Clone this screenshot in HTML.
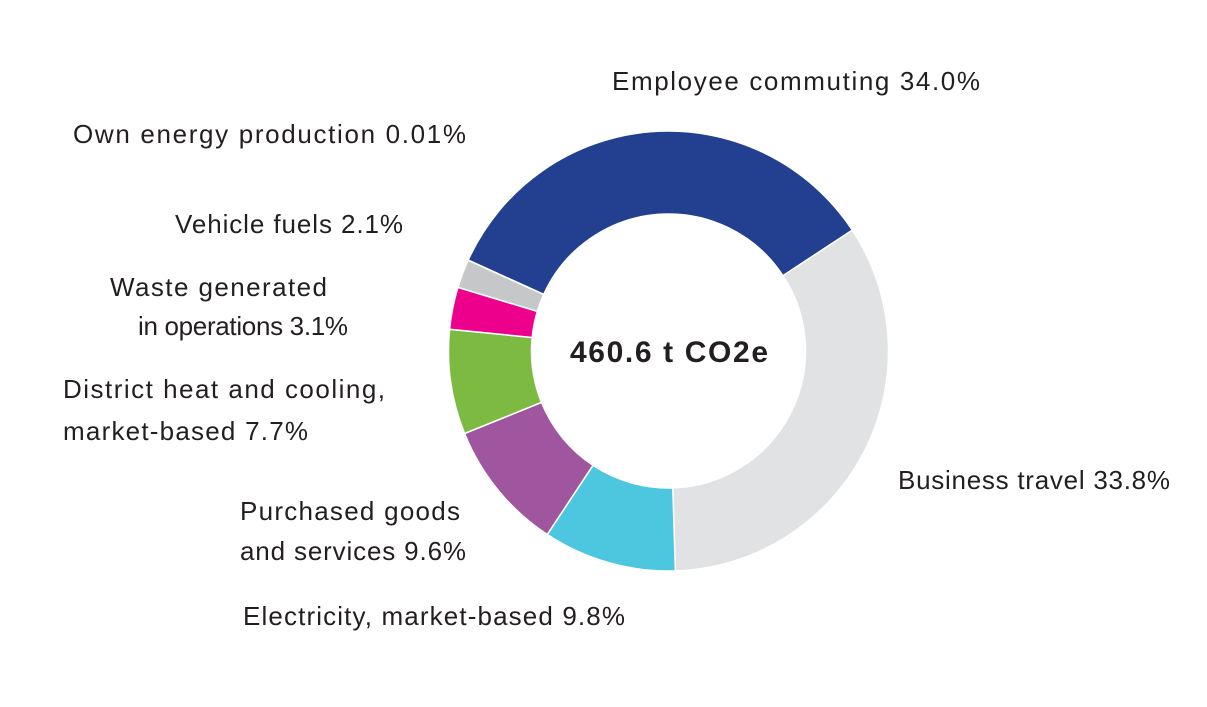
<!DOCTYPE html>
<html><head><meta charset="utf-8"><style>
html,body{margin:0;padding:0;background:#fff;}
svg{display:block;font-family:"Liberation Sans",sans-serif;}
</style></head><body>
<svg width="1207" height="707" viewBox="0 0 1207 707">
<g id="slices"></g>
<text x="669" y="362" text-anchor="middle" font-size="30" font-weight="bold" fill="#231f20" textLength="198">460.6 t CO2e</text>
<g font-size="26" fill="#231f20">
<text x="612" y="90" textLength="368">Employee commuting 34.0%</text>
<text x="73" y="143" textLength="393">Own energy production 0.01%</text>
<text x="175" y="233" textLength="228">Vehicle fuels 2.1%</text>
<text x="110" y="296" textLength="217">Waste generated</text>
<text x="138" y="335" textLength="210">in operations 3.1%</text>
<text x="63" y="398" textLength="322">District heat and cooling,</text>
<text x="63" y="440" textLength="245">market-based 7.7%</text>
<text x="898" y="489" textLength="272">Business travel 33.8%</text>
<text x="240" y="520" textLength="220">Purchased goods</text>
<text x="240" y="560" textLength="226">and services 9.6%</text>
<text x="243" y="625" textLength="382">Electricity, market-based 9.8%</text>
</g>
</svg>
<script>
const categories=["Employee commuting","Business travel","Electricity, market-based","Purchased goods and services","District heat and cooling","Waste generated in operations","Vehicle fuels","Own energy production"];
const values=[34.0,33.8,9.8,9.6,7.7,3.1,2.1,0.01];
const colors=["#22408f","#e1e2e4","#4dc6e0","#a0559f","#7dba42","#ec008c","#c6c7c9","#9ea0a3"];
const cx=668.5,cy=351,R=220,r=137,start=-65.6;
const total=values.reduce((a,b)=>a+b,0);
function pt(deg,rad){const a=deg*Math.PI/180;return [cx+rad*Math.sin(a),cy-rad*Math.cos(a)];}
const g=document.getElementById('slices');
let ang=start;
values.forEach((v,i)=>{
  const sw=v/total*360;const a0=ang,a1=ang+sw;ang=a1;
  const large=sw>180?1:0;
  const p0=pt(a0,R),p1=pt(a1,R),q1=pt(a1,r),q0=pt(a0,r);
  const d=`M${p0[0]},${p0[1]}A${R},${R} 0 ${large} 1 ${p1[0]},${p1[1]}L${q1[0]},${q1[1]}A${r},${r} 0 ${large} 0 ${q0[0]},${q0[1]}Z`;
  const p=document.createElementNS('http://www.w3.org/2000/svg','path');
  p.setAttribute('d',d);p.setAttribute('fill',colors[i]);
  p.setAttribute('stroke','#fff');p.setAttribute('stroke-width','1.5');
  
  
  g.appendChild(p);
});
</script>
</body></html>
